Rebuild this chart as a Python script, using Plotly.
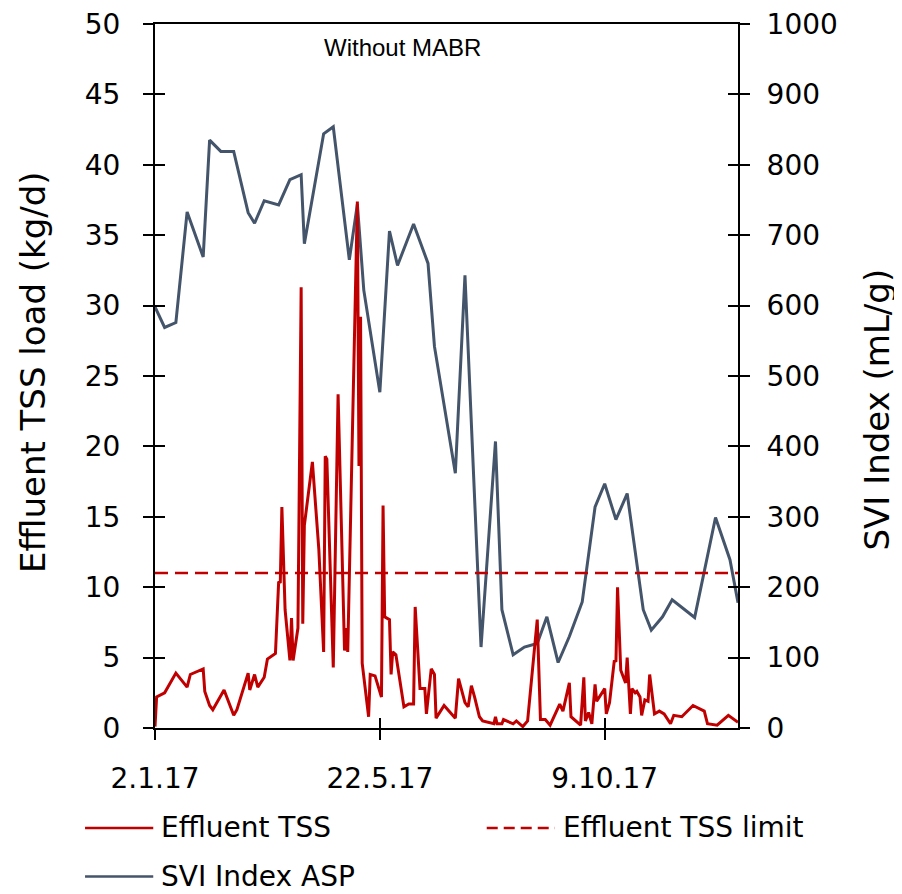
import pandas as pd
import plotly.graph_objects as go

# values (day offsets from 2 Jan 2017)
tss_day = [0, 1, 6, 13, 20, 22, 30, 31, 34, 36,
           43, 49, 51, 58, 59, 62, 64, 68, 70, 75,
           77, 78, 79, 81, 84, 85, 86, 89, 91, 92,
           93, 98, 102, 105, 106, 107, 111, 114, 118, 119,
           120, 126, 127, 128, 129, 133, 134, 137, 141, 142,
           143, 146, 147, 148, 150, 155, 158, 161, 162, 165,
           168, 169, 172, 174, 175, 180, 187, 189, 193, 195,
           197, 199, 202, 204, 211, 212, 213, 216, 217, 223,
           225, 229, 232, 238, 240, 243, 246, 252, 254, 258,
           259, 265, 267, 268, 270, 272, 274, 275, 280, 281,
           283, 286, 287, 288, 290, 293, 294, 296, 297, 299,
           300, 302, 303, 305, 307, 308, 311, 314, 317, 321,
           323, 328, 335, 342, 344, 350, 357, 363]
tss_load = [0.1, 2.2, 2.5, 3.9, 2.9, 3.8, 4.2, 2.6, 1.6, 1.3,
            2.7, 0.9, 1.3, 3.9, 2.7, 3.8, 2.9, 3.6, 4.9, 5.3,
            10.4, 10.3, 15.7, 8.4, 4.8, 7.8, 4.8, 7.1, 31.3, 7.4,
            14.4, 18.9, 12.7, 5.4, 19.3, 19.1, 4.3, 23.7, 5.5, 7.1,
            5.4, 37.4, 18.6, 29.2, 4.6, 0.8, 3.8, 3.7, 2.2, 15.8,
            7.9, 7.7, 3.8, 5.4, 5.2, 1.5, 1.7, 1.7, 8.6, 2.8,
            2.8, 1.0, 4.2, 3.8, 0.7, 1.6, 0.7, 3.5, 1.8, 1.5,
            3.0, 2.2, 0.8, 0.5, 0.3, 0.8, 0.3, 0.3, 0.6, 0.3,
            0.5, 0.1, 0.5, 7.7, 0.6, 0.6, 0.2, 1.7, 1.2, 3.2,
            0.8, 0.2, 3.6, 0.5, 1.1, 0.3, 3.1, 1.9, 2.8, 1.0,
            1.8, 4.8, 4.7, 10.0, 4.1, 3.2, 5.0, 1.0, 2.8, 2.5,
            2.6, 2.2, 0.9, 2.0, 1.9, 3.8, 1.0, 1.2, 1.0, 0.3,
            0.9, 0.8, 1.6, 1.2, 0.3, 0.2, 0.9, 0.4]

svi_day = [0, 6, 13, 20, 30, 34, 41, 49, 58, 62,
           68, 77, 84, 91, 93, 105, 111, 121, 126, 130,
           140, 146, 151, 161, 170, 174, 187, 193, 203, 212,
           216, 223, 230, 238, 244, 251, 258, 266, 274, 280,
           287, 294, 304, 309, 316, 322, 336, 349, 358, 363]
svi_index = [598, 569, 576, 733, 669, 835, 819, 819, 732, 717,
             749, 743, 779, 786, 688, 844, 854, 665, 744, 622,
             477, 706, 657, 716, 660, 542, 362, 643, 115, 407,
             168, 104, 115, 120, 158, 93, 130, 179, 314, 347,
             296, 333, 168, 139, 158, 182, 157, 299, 239, 178]

tss_limit = 11

tick_dates = ["2017-01-02", "2017-05-22", "2017-10-09"]
tick_text = ["2.1.17", "22.5.17", "9.10.17"]

assert len(tss_day) == len(tss_load)
assert len(svi_day) == len(svi_index)

START = pd.Timestamp("2017-01-02")
END = pd.Timestamp("2017-12-31")
tss_x = START + pd.to_timedelta(tss_day, unit="D")
svi_x = START + pd.to_timedelta(svi_day, unit="D")

RED = "#C00000"
BLUE = "#44546A"
FONT = "DejaVu Sans"
FS = 28
TITLE_FS = 34

fig = go.Figure()

# SVI on the base (right) axis so the TSS traces sit on top of it
fig.add_trace(go.Scatter(x=svi_x, y=svi_index, mode="lines", name="SVI Index ASP",
                         line=dict(color=BLUE, width=3), yaxis="y", showlegend=False))
fig.add_trace(go.Scatter(x=tss_x, y=tss_load, mode="lines", name="Effluent TSS",
                         line=dict(color=RED, width=3), yaxis="y2", showlegend=False))
fig.add_trace(go.Scatter(x=[START, END], y=[tss_limit, tss_limit], mode="lines",
                         name="Effluent TSS limit", xaxis="x3", yaxis="y3",
                         line=dict(color=RED, width=2.5, dash="13px,7px"), showlegend=False))

tick_common = dict(tickcolor="black", tickwidth=1.5, ticklen=10,
                   showgrid=False, zeroline=False, automargin=False)

# the page body adds an 8px margin, so the figure is 8px smaller than the window
fig.update_layout(
    width=894, height=886,
    margin=dict(l=147, r=164, t=16, b=166),
    paper_bgcolor="white", plot_bgcolor="white",
    font=dict(family=FONT, size=FS, color="black"),
    xaxis=dict(type="date", range=[START, END], tickvals=tick_dates, ticktext=tick_text,
               ticks="outside", showline=True, linecolor="black", linewidth=2,
               mirror=True, ticklabelstandoff=14, **tick_common),
    yaxis=dict(range=[0, 1000], dtick=100, side="right", ticks="outside",
               showline=True, linecolor="black", linewidth=2, mirror="ticks",
               ticklabelstandoff=11, ticklabeloverflow="allow", **tick_common),
    yaxis2=dict(range=[0, 50], dtick=5, side="left", overlaying="y", ticks="outside",
                showline=False, ticklabelstandoff=18, ticklabeloverflow="allow",
                **tick_common),
    xaxis3=dict(type="date", range=[START, END], tickvals=tick_dates, overlaying="x",
                anchor="y3", ticks="inside", showticklabels=False, showline=False,
                **tick_common),
    yaxis3=dict(range=[0, 50], dtick=5, side="left", overlaying="y", anchor="x3",
                ticks="inside", showticklabels=False, showline=True, linecolor="black",
                linewidth=2, mirror="ticks", **tick_common),
)

# axis titles and the panel label
fig.add_annotation(text="Effluent TSS load (kg/d)", xref="paper", yref="paper",
                   x=-0.209, y=0.506, textangle=-90, showarrow=False,
                   xanchor="center", yanchor="middle", font=dict(size=TITLE_FS))
fig.add_annotation(text="SVI Index (mL/g)", xref="paper", yref="paper",
                   x=1.238, y=0.452, textangle=-90, showarrow=False,
                   xanchor="center", yanchor="middle", font=dict(size=TITLE_FS))
fig.add_annotation(text="Without MABR", xref="paper", yref="paper",
                   x=0.425, y=0.966, showarrow=False, xanchor="center", yanchor="middle",
                   font=dict(family="Liberation Sans", size=24))

# legend drawn by hand so the line samples are as long as in the reference
legend_items = [
    ("Effluent TSS", RED, "solid", -0.120, -0.142),
    ("Effluent TSS limit", RED, "dash", 0.569, -0.142),
    ("SVI Index ASP", BLUE, "solid", -0.120, -0.211),
]
for label, color, dash, x0, y0 in legend_items:
    fig.add_shape(type="line", xref="paper", yref="paper", x0=x0, x1=x0 + 0.117,
                  y0=y0, y1=y0, line=dict(color=color, width=2.5,
                                          dash="11px,6px" if dash == "dash" else "solid"))
    fig.add_annotation(text=label, xref="paper", yref="paper", x=x0 + 0.127, y=y0,
                       showarrow=False, xanchor="left", yanchor="middle",
                       font=dict(size=FS))

fig.write_html("out.html")
